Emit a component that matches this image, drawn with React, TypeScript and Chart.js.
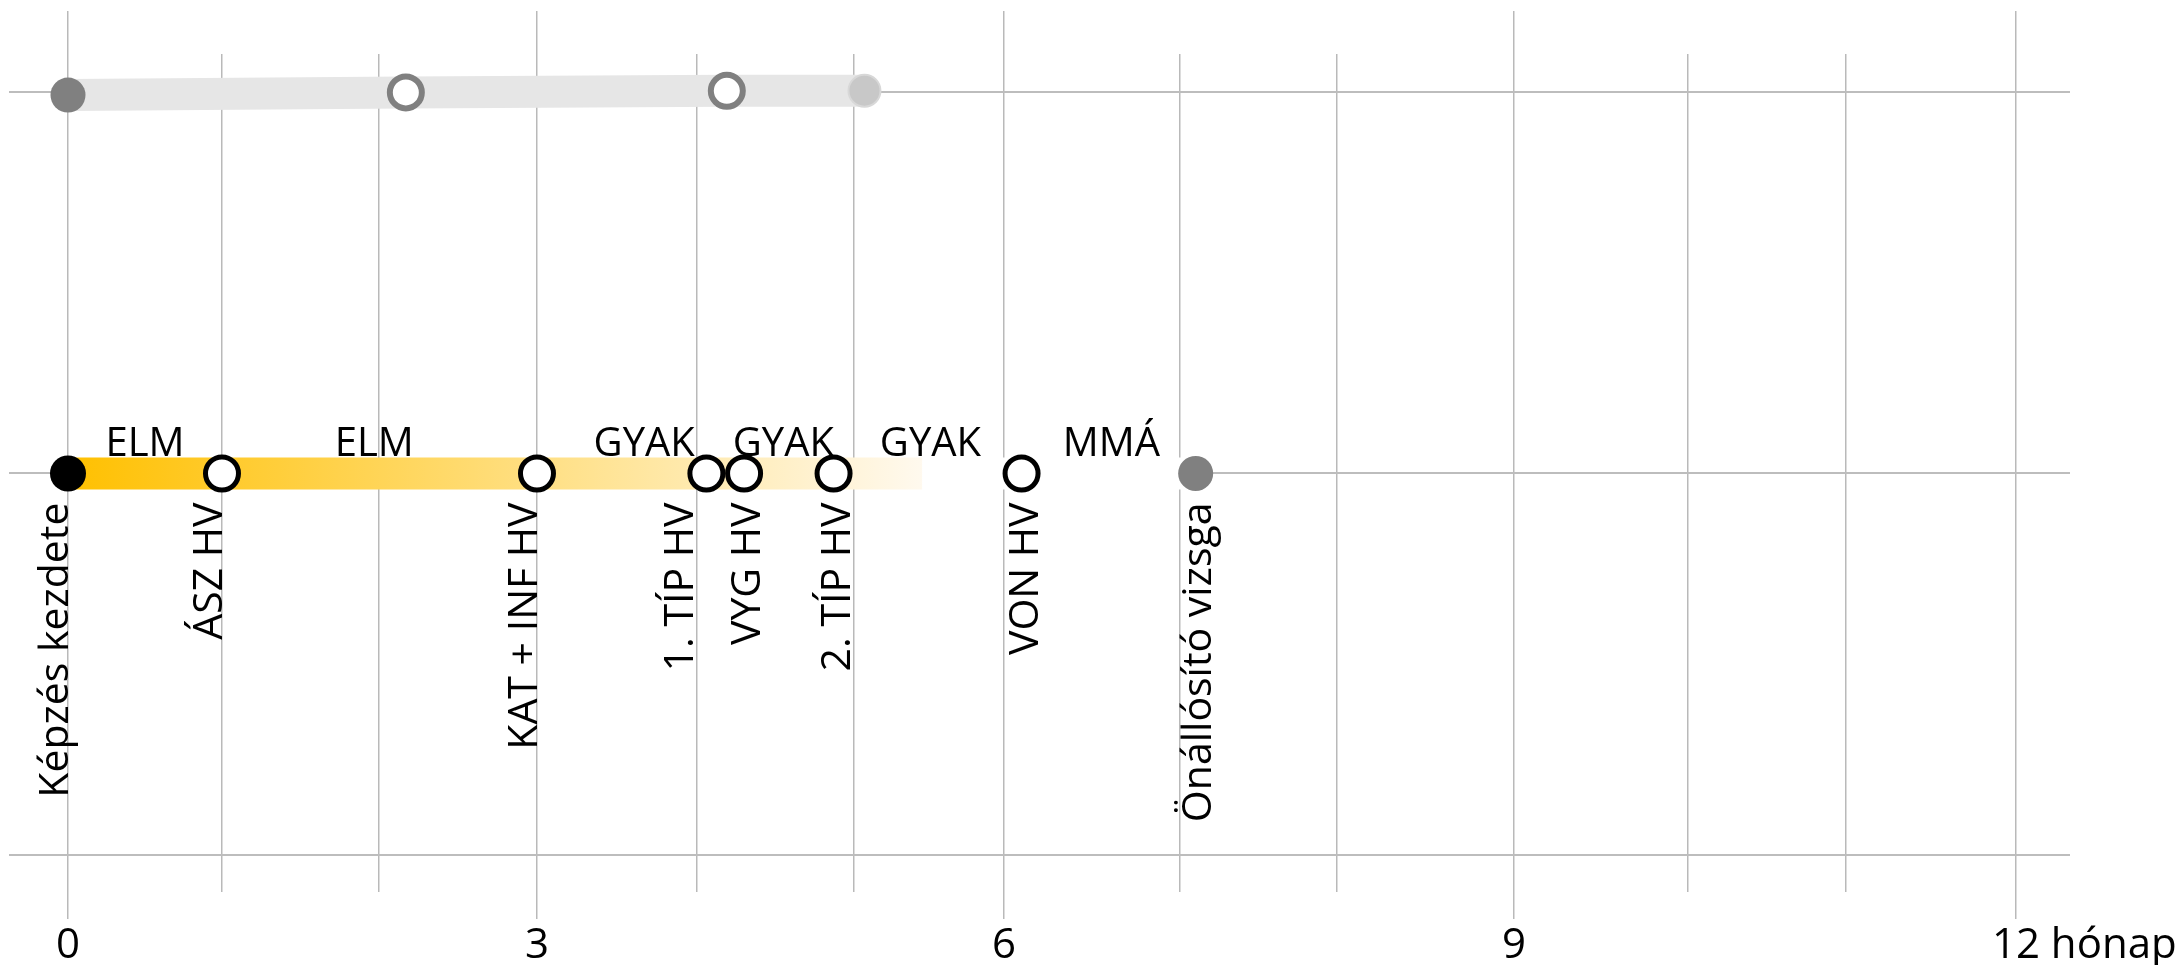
import React, { useEffect, useRef } from 'react';
import { Chart, registerables, LinearScale } from 'chart.js';

// ---- data ----
const grayMonths = [0, 2.17, 4.19, 5.07];
const grayValues = [1.992, 1.999, 2.003, 2.0035];

const milestoneNames = [
  'Képzés kezdete',
  'ÁSZ HV',
  'KAT + INF HV',
  '1. TÍP HV',
  'VYG HV',
  '2. TÍP HV',
  'VON HV',
  'Önállósító vizsga',
];
const milestoneMonths = [0, 1, 3, 4.06, 4.3, 4.87, 6.1, 7.1];
const milestoneValues = [1, 1, 1, 1, 1, 1, 1, 1];

const phaseLabels = ['ELM', 'ELM', 'GYAK', 'GYAK', 'GYAK', 'MMÁ'];
const phaseMonths = [0.5, 1.97, 3.67, 4.55, 5.51, 6.61];

const gridMonths = [0, 1, 2, 3, 4, 5, 6, 7, 8, 9, 10, 11, 12];
const xTickValues = [0, 3, 6, 9, 12];
const xTickLabels = ['0', '3', '6', '9', '12 hónap'];
const rowValues = [0, 1, 2];

// ---- layout / style constants ----
const MONTH_WIDTHS = [154, 157, 158, 160, 157, 150, 176, 157, 177, 174, 158, 170];
const LABEL_NUDGE = [0, 0, 0, -13, 16, 16, 16, 15];
const FADE_END = 5.45;
const FONT = '"Open Sans", "Noto Sans", sans-serif';
const GRID_COLOR = '#b9b9b9';

class MonthScale extends LinearScale {
  static id = 'month';
  static defaults = {};
  toUniform(v: number): number {
    const w = MONTH_WIDTHS;
    const n = w.length;
    if (v <= 0 || v >= n) return v;
    const total = w.reduce((a, b) => a + b, 0);
    const i = Math.floor(v);
    let cum = 0;
    for (let k = 0; k < i; k++) cum += w[k];
    return ((cum + (v - i) * w[i]) / total) * n;
  }
  getPixelForValue(value: any, index?: number): number {
    if (value === null || value === undefined) return NaN;
    return super.getPixelForValue(this.toUniform(value), index as any);
  }
}

Chart.register(...registerables, MonthScale);

const labelPlugin = {
  id: 'timelineLabels',
  afterDatasetsDraw(chart: any) {
    const { ctx } = chart;
    const x = chart.scales.x;
    const y = chart.scales.y;
    ctx.save();
    ctx.fillStyle = '#000000';
    ctx.textBaseline = 'alphabetic';

    // phase labels above the main row
    ctx.font = `40px ${FONT}`;
    ctx.textAlign = 'center';
    const rowY = y.getPixelForValue(1);
    phaseLabels.forEach((t, i) => {
      ctx.fillText(t, x.getPixelForValue(phaseMonths[i]), rowY - 17);
    });

    // rotated milestone labels
    ctx.font = `41px ${FONT}`;
    milestoneNames.forEach((t, i) => {
      const px = x.getPixelForValue(milestoneMonths[i]) + (LABEL_NUDGE[i] || 0);
      const py = y.getPixelForValue(milestoneValues[i]);
      ctx.save();
      ctx.translate(px, py + 29);
      ctx.rotate(-Math.PI / 2);
      ctx.textAlign = 'right';
      ctx.fillText(t, 0, 0);
      ctx.restore();
    });

    // x tick labels
    ctx.font = `42px ${FONT}`;
    ctx.textAlign = 'left';
    xTickLabels.forEach((t, i) => {
      const px = x.getPixelForValue(xTickValues[i]);
      const num = t.split(' ')[0];
      const w = ctx.measureText(num).width;
      ctx.fillText(t, px - w / 2, x.bottom + 39);
    });
    ctx.restore();
  },
};

const majorTick = (c: any) =>
  c.tick && c.tick.value % 3 === 0 ? GRID_COLOR : 'rgba(0,0,0,0)';

export default function App() {
  const ref = useRef<HTMLCanvasElement>(null);
  useEffect(() => {
    document.body.style.margin = '0';
    const canvas = ref.current as HTMLCanvasElement;
    const chart = new Chart(canvas, {
      type: 'line',
      data: {
        datasets: [
          {
            label: 'gray',
            xAxisID: 'x',
            yAxisID: 'y',
            data: grayMonths.map((m, i) => ({ x: m, y: grayValues[i] })),
            borderColor: '#e6e6e6',
            borderWidth: 32,
            borderCapStyle: 'butt',
            tension: 0,
            clip: false,
            pointRadius: (c: any) => (c.dataIndex === 0 ? 17.5 : 16),
            pointBorderWidth: (c: any) =>
              c.dataIndex === 0 ? 0 : c.dataIndex === grayMonths.length - 1 ? 2 : 6,
            pointBackgroundColor: (c: any) =>
              c.dataIndex === 0 ? '#808080' : c.dataIndex === grayMonths.length - 1 ? '#c8c8c8' : '#ffffff',
            pointBorderColor: (c: any) =>
              c.dataIndex === grayMonths.length - 1 ? '#d8d8d8' : '#808080',
          } as any,
          {
            label: 'main',
            xAxisID: 'x',
            yAxisID: 'y',
            data: milestoneMonths.map((m, i) => ({ x: m, y: milestoneValues[i] })),
            borderColor: (c: any) => {
              const ch = c.chart;
              const xs = ch.scales && ch.scales.x;
              if (!ch.chartArea || !xs) return '#FFC000';
              const x0 = xs.getPixelForValue(milestoneMonths[0]);
              const x1 = xs.getPixelForValue(milestoneMonths[milestoneMonths.length - 1]);
              const xf = xs.getPixelForValue(FADE_END);
              const f = Math.min(0.998, Math.max(0, (xf - x0) / (x1 - x0)));
              const g = ch.ctx.createLinearGradient(x0, 0, x1, 0);
              g.addColorStop(0, '#FFC000');
              g.addColorStop(f, '#FFF9EE');
              g.addColorStop(f + 0.001, '#FFFFFF');
              g.addColorStop(1, '#FFFFFF');
              return g;
            },
            borderWidth: 32,
            borderCapStyle: 'butt',
            tension: 0,
            clip: false,
            pointRadius: (c: any) =>
              c.dataIndex === 0 ? 18 : c.dataIndex === milestoneMonths.length - 1 ? 17.5 : 16.5,
            pointBorderWidth: (c: any) =>
              c.dataIndex === 0 || c.dataIndex === milestoneMonths.length - 1 ? 0 : 5,
            pointBackgroundColor: (c: any) =>
              c.dataIndex === 0 ? '#000000' : c.dataIndex === milestoneMonths.length - 1 ? '#808080' : '#ffffff',
            pointBorderColor: (c: any) =>
              c.dataIndex === milestoneMonths.length - 1 ? '#808080' : '#000000',
          } as any,
        ],
      },
      options: {
        responsive: false,
        animation: false,
        devicePixelRatio: 1,
        events: [],
        layout: { autoPadding: false, padding: { left: 9, right: 111, top: 11, bottom: 46 } },
        plugins: { legend: { display: false }, tooltip: { enabled: false } },
        scales: {
          x: {
            type: 'month',
            axis: 'x',
            position: 'bottom',
            min: -0.3634,
            max: 12.333,
            afterBuildTicks: (s: any) => {
              s.ticks = gridMonths.map((v) => ({ value: v }));
            },
            ticks: { display: false },
            grid: {
              color: GRID_COLOR,
              lineWidth: 1.5,
              drawTicks: true,
              tickLength: 27,
              tickWidth: 1.5,
              tickColor: majorTick,
            },
            border: { display: false },
          },
          x2: {
            type: 'month',
            axis: 'x',
            position: 'top',
            min: -0.3634,
            max: 12.333,
            afterBuildTicks: (s: any) => {
              s.ticks = gridMonths.map((v) => ({ value: v }));
            },
            ticks: { display: false },
            grid: {
              drawOnChartArea: false,
              color: GRID_COLOR,
              lineWidth: 1.5,
              drawTicks: true,
              tickLength: 43,
              tickWidth: 1.5,
              tickColor: majorTick,
            },
            border: { display: false },
          },
          y: {
            type: 'linear',
            position: 'left',
            min: -0.097,
            max: 2.0996,
            afterBuildTicks: (s: any) => {
              s.ticks = rowValues.map((v) => ({ value: v }));
            },
            ticks: { display: false },
            grid: { color: '#bdbdbd', lineWidth: 2, drawTicks: false },
            border: { display: false },
          },
        } as any,
      },
      plugins: [labelPlugin],
    } as any);
    return () => chart.destroy();
  }, []);
  return (
    <div style={{ width: 2181, height: 965, background: '#ffffff' }}>
      <canvas ref={ref} width={2181} height={965} style={{ display: 'block', width: 2181, height: 965 }} />
    </div>
  );
}
